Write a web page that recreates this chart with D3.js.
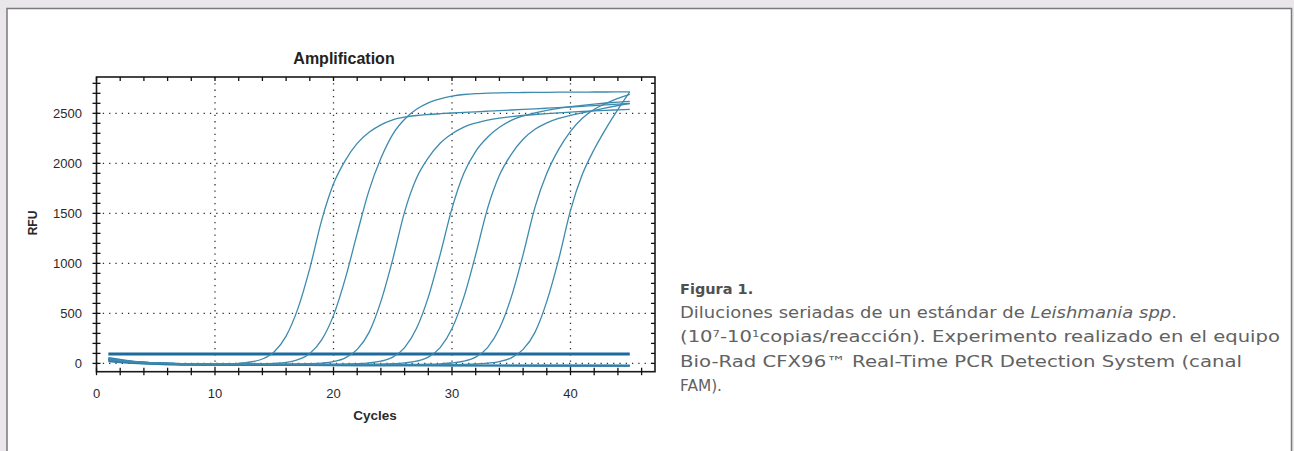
<!DOCTYPE html>
<html>
<head>
<meta charset="utf-8">
<script src="https://cdn.jsdelivr.net/npm/d3@7"></script>
<style>
	html, body { margin: 0; padding: 0; background: #e9e7ea; }
	svg { display: block; }
</style>
</head>
<body>
<svg id="chart" width="1294" height="451"></svg>
<script>
// cycles 1..45
const cycles = [1,2,3,4,5,6,7,8,9,10,11,12,13,14,15,16,17,18,19,20,21,22,23,24,25,26,27,28,29,30,31,32,33,34,35,36,37,38,39,40,41,42,43,44,45];

// standard dilutions 10^7 .. 10^1 (RFU per cycle)
const std7 = [48,32,20,11,5,1,-2,-4,-5,-6, -4,1,14,44,117,273,550,950,1430,1795, 2030,2200,2310,2385,2435,2462,2478,2488,2496,2503, 2509,2515,2521,2527,2533,2539,2545,2551,2557,2563, 2570,2577,2584,2591,2598];
const std6 = [42,28,17,9,4,0,-3,-5,-6,-7, -7,-7,-6,-5,0,10,38,100,235,480, 850,1300,1730,2050,2290,2440,2540,2605,2645,2672, 2688,2697,2702,2705,2707,2708,2709,2710,2711,2712, 2712,2713,2713,2714,2715];
const std5 = [38,25,15,8,3,0,-3,-5,-6,-7, -7,-8,-8,-8,-8,-7,-6,-3,3,18, 55,140,310,620,1040,1515,1850,2055,2200,2295, 2362,2403,2432,2452,2466,2478,2488,2497,2505,2512, 2518,2524,2530,2535,2540];
const std4 = [40,26,16,8,3,0,-3,-5,-7,-8, -8,-9,-9,-9,-9,-9,-9,-9,-9,-9, -7,-3,5,22,63,158,348,662,1088,1550, 1900,2120,2260,2360,2430,2475,2505,2530,2550,2566, 2580,2592,2603,2612,2620];
const std3 = [44,29,18,10,4,0,-3,-6,-8,-9, -9,-9,-9,-9,-9,-9,-9,-9,-9,-9, -9,-9,-9,-7,-3,5,22,63,158,348, 662,1088,1550,1880,2090,2240,2340,2405,2450,2480, 2505,2530,2555,2578,2600];
const std2 = [40,26,16,9,4,0,-3,-6,-8,-10, -10,-10,-10,-10,-10,-10,-10,-10,-10,-10, -10,-10,-10,-10,-10,-10,-10,-8,-4,4, 22,63,158,348,662,1088,1560,1900,2140,2320, 2450,2540,2600,2650,2690];
const std1 = [46,30,18,10,4,0,-4,-7,-9,-11, -12,-12,-12,-12,-12,-12,-12,-12,-12,-12, -12,-12,-12,-12,-12,-12,-12,-12,-12,-12, -10,-6,3,18,55,140,310,620,1040,1530, 1890,2140,2350,2540,2715];

// negative controls (sparse readings)
const ntcCycles = [1,2,3,4,5,7,10,15,20,25,30,35,40,45];
const ntcA = [55,38,22,10,0,-10,-15,-18,-20,-20,-22,-24,-25,-26];
const ntcB = [30,18,8,0,-6,-12,-16,-18,-19,-20,-21,-22,-22,-23];
const ntcC = [20,10,2,-4,-8,-12,-14,-15,-16,-17,-18,-18,-19,-20];

const threshold = 95;

const xTicks = [0, 10, 20, 30, 40];
const yTicks = [0, 500, 1000, 1500, 2000, 2500];

const svg = d3.select("#chart");

// white panel
svg.append("rect")
	.attr("x", 7).attr("y", 8.5)
	.attr("width", 1284.5).attr("height", 460)
	.attr("fill", "#ffffff")
	.attr("stroke", "#7a7a7a")
	.attr("stroke-width", 1.5);

const plot = { left: 96.5, right: 655, top: 77, bottom: 371.7 };

const x = d3.scaleLinear().domain([0, 47.13]).range([plot.left, plot.right]);
const y = d3.scaleLinear().domain([-83, 2863]).range([plot.bottom, plot.top]);

const g = svg.append("g");

// dotted grid
g.selectAll(".gx")
	.data(xTicks.filter(d => d > 0))
	.enter().append("line")
	.attr("x1", d => x(d)).attr("x2", d => x(d))
	.attr("y1", plot.top).attr("y2", plot.bottom)
	.attr("stroke", "#333").attr("stroke-width", 1.3)
	.attr("stroke-dasharray", "1.3,5");

g.selectAll(".gy")
	.data(yTicks)
	.enter().append("line")
	.attr("x1", plot.left).attr("x2", plot.right)
	.attr("y1", d => y(d)).attr("y2", d => y(d))
	.attr("stroke", "#333").attr("stroke-width", 1.3)
	.attr("stroke-dasharray", "1.3,5");

// curves
const line = d3.line()
	.x(d => x(d[0]))
	.y(d => y(d[1]))
	.curve(d3.curveMonotoneX);

const ntcs = [ntcA, ntcB, ntcC];
ntcs.forEach(s => {
	g.append("path")
		.datum(ntcCycles.map((c, i) => [c, s[i]]))
		.attr("d", line)
		.attr("fill", "none")
		.attr("stroke", "#2f7aa6")
		.attr("stroke-width", 1.6);
});

g.append("line")
	.attr("x1", x(1)).attr("x2", x(45))
	.attr("y1", y(threshold)).attr("y2", y(threshold))
	.attr("stroke", "#1d6a9e")
	.attr("stroke-width", 3);

const standards = [std7, std6, std5, std4, std3, std2, std1];
standards.forEach(s => {
	g.append("path")
		.datum(cycles.map((c, i) => [c, s[i]]))
		.attr("d", line)
		.attr("fill", "none")
		.attr("stroke", "#3d8aae")
		.attr("stroke-width", 1.3);
});

// frame
g.append("rect")
	.attr("x", plot.left).attr("y", plot.top)
	.attr("width", plot.right - plot.left).attr("height", plot.bottom - plot.top)
	.attr("fill", "none")
	.attr("stroke", "#1a1a1a")
	.attr("stroke-width", 1.6);

// ticks
const xMinor = d3.range(0, 47, 2);
const yMinor = d3.range(0, 2801, 100);
const tickColor = "#111";

g.selectAll(".tb").data(xMinor).enter().append("line")
	.attr("x1", d => x(d)).attr("x2", d => x(d))
	.attr("y1", plot.bottom - 4).attr("y2", plot.bottom + 3.5)
	.attr("stroke", tickColor).attr("stroke-width", 1.3);

g.selectAll(".tt").data(xMinor).enter().append("line")
	.attr("x1", d => x(d)).attr("x2", d => x(d))
	.attr("y1", plot.top).attr("y2", plot.top + 4)
	.attr("stroke", tickColor).attr("stroke-width", 1.3);

g.selectAll(".tl").data(yMinor).enter().append("line")
	.attr("x1", plot.left - 4).attr("x2", plot.left + 4)
	.attr("y1", d => y(d)).attr("y2", d => y(d))
	.attr("stroke", tickColor).attr("stroke-width", 1.3);

g.selectAll(".tr").data(yMinor).enter().append("line")
	.attr("x1", plot.right - 4).attr("x2", plot.right)
	.attr("y1", d => y(d)).attr("y2", d => y(d))
	.attr("stroke", tickColor).attr("stroke-width", 1.3);

// labels
const font = "'Liberation Sans', Arial, sans-serif";

g.selectAll(".xl").data(xTicks).enter().append("text")
	.attr("x", d => x(d)).attr("y", 398)
	.attr("text-anchor", "middle")
	.attr("font-family", font).attr("font-size", 13)
	.attr("fill", "#2a2a2a")
	.text(d => d);

g.selectAll(".yl").data(yTicks).enter().append("text")
	.attr("x", 82).attr("y", d => y(d) + 4.5)
	.attr("text-anchor", "end")
	.attr("font-family", font).attr("font-size", 13)
	.attr("fill", "#2a2a2a")
	.text(d => d);

svg.append("text")
	.attr("x", 344).attr("y", 64)
	.attr("text-anchor", "middle")
	.attr("font-family", font).attr("font-size", 16)
	.attr("font-weight", "bold")
	.attr("fill", "#222")
	.text("Amplification");

svg.append("text")
	.attr("x", 375).attr("y", 420)
	.attr("text-anchor", "middle")
	.attr("font-family", font).attr("font-size", 13.5)
	.attr("font-weight", "bold")
	.attr("fill", "#2a2a2a")
	.text("Cycles");

svg.append("text")
	.attr("transform", "translate(36.5,223) rotate(-90)")
	.attr("text-anchor", "middle")
	.attr("font-family", font).attr("font-size", 12)
	.attr("font-weight", "bold")
	.attr("fill", "#2a2a2a")
	.text("RFU");

// caption
const capFont = "'DejaVu Sans', sans-serif";
const cap = svg.append("g")
	.attr("font-family", capFont)
	.attr("font-size", 15)
	.attr("fill", "#626262");

cap.append("text")
	.attr("x", 680).attr("y", 294)
	.attr("font-weight", "bold")
	.attr("font-size", 14.5)
	.attr("fill", "#505050")
	.text("Figura 1.");

const l1 = cap.append("text").attr("x", 680).attr("y", 318)
	.attr("textLength", 497).attr("lengthAdjust", "spacingAndGlyphs");
l1.append("tspan").text("Diluciones seriadas de un estándar de ");
l1.append("tspan").attr("font-style", "italic").text("Leishmania spp");
l1.append("tspan").text(".");

const l2 = cap.append("text").attr("x", 680).attr("y", 342)
	.attr("textLength", 600).attr("lengthAdjust", "spacingAndGlyphs");
l2.append("tspan").text("(10");
l2.append("tspan").attr("font-size", 9).attr("dy", -5).text("7");
l2.append("tspan").attr("dy", 5).text("-10");
l2.append("tspan").attr("font-size", 9).attr("dy", -5).text("1");
l2.append("tspan").attr("dy", 5).text("copias/reacción). Experimento realizado en el equipo");

cap.append("text").attr("x", 680).attr("y", 367)
	.attr("textLength", 562).attr("lengthAdjust", "spacingAndGlyphs")
	.text("Bio-Rad CFX96™ Real-Time PCR Detection System (canal");

cap.append("text").attr("x", 680).attr("y", 391)
	.attr("textLength", 42).attr("lengthAdjust", "spacingAndGlyphs")
	.text("FAM).");
</script>
</body>
</html>
